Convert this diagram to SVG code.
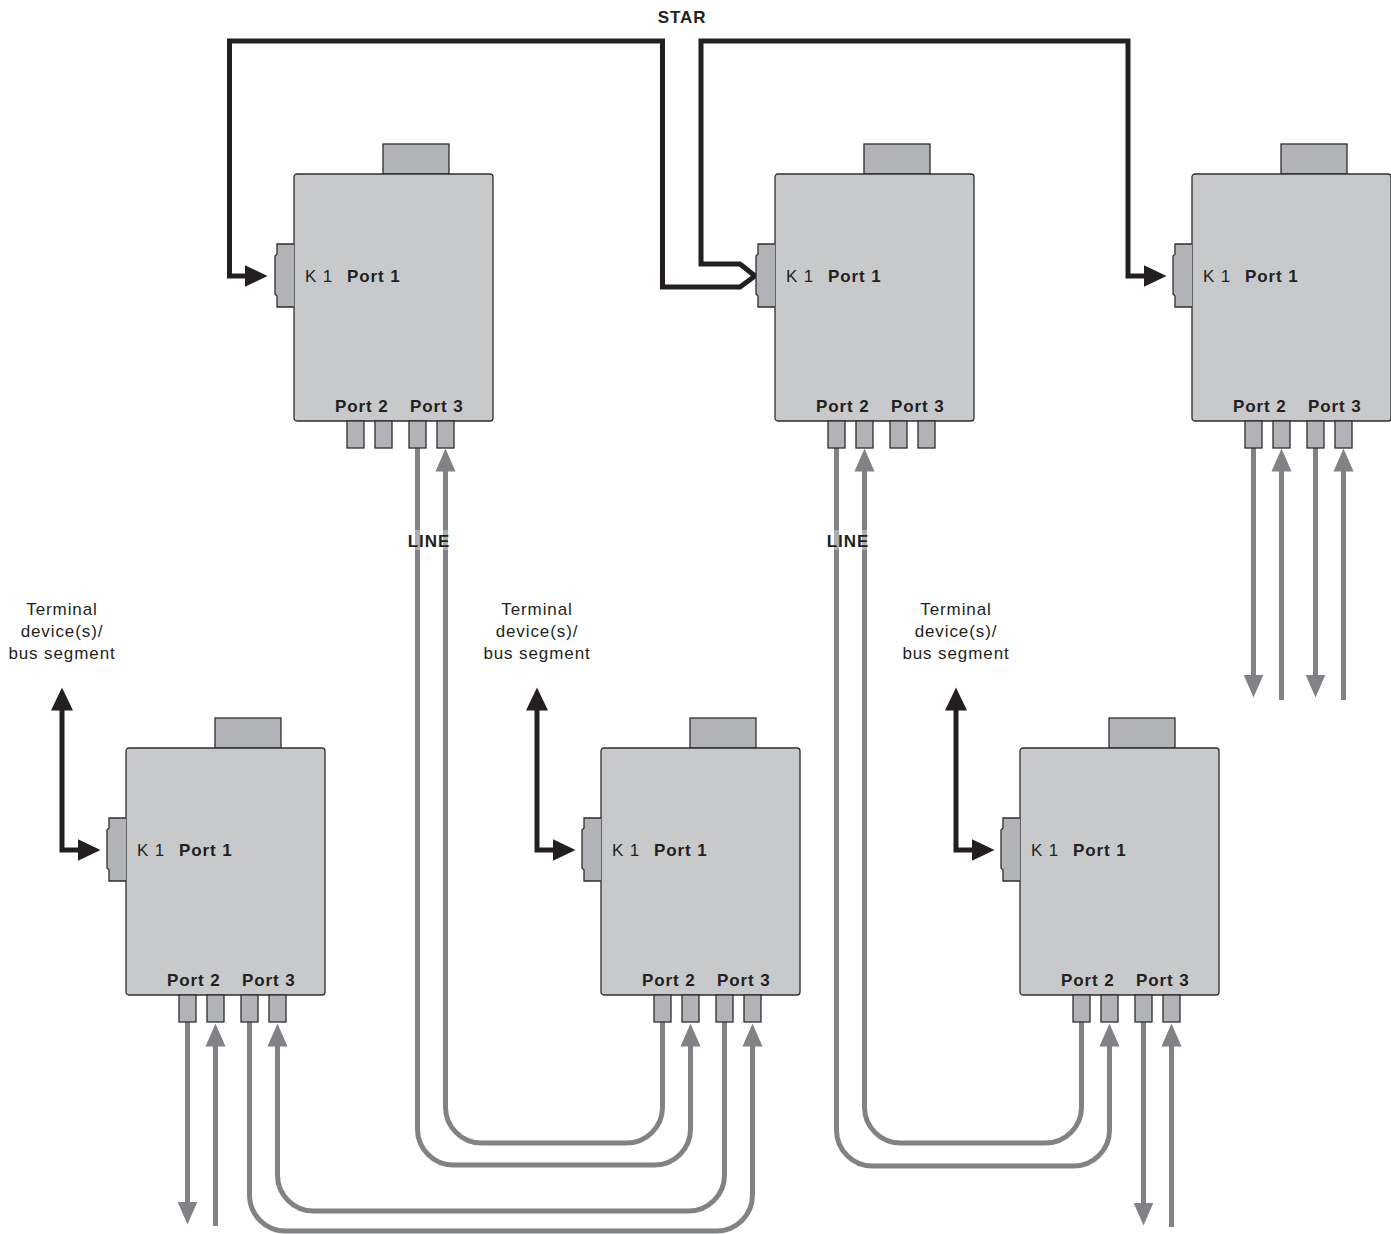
<svg xmlns="http://www.w3.org/2000/svg" width="1391" height="1234" viewBox="0 0 1391 1234">
<style>
.box{fill:#c8c9cb;stroke:#2e2e2e;stroke-width:1.3}
.part{fill:#b2b3b6;stroke:#2e2e2e;stroke-width:1.3}
.t{font-family:"Liberation Sans",Arial,sans-serif;font-size:17px;fill:#231f20;letter-spacing:0.9px}
.b{font-weight:bold}
.g{fill:none;stroke:#808285;stroke-width:5}
.k{fill:none;stroke:#231f20;stroke-width:5;stroke-linejoin:miter}
.ga{marker-end:url(#ag)}
.ka{marker-end:url(#ak)}
</style>
<defs>
<marker id="ag" markerUnits="userSpaceOnUse" markerWidth="24" markerHeight="22" viewBox="0 -11 24 22" refX="0.5" refY="0" orient="auto-start-reverse"><path d="M0,-10 L23,0 L0,10z" fill="#808285"/></marker>
<marker id="ak" markerUnits="userSpaceOnUse" markerWidth="24" markerHeight="24" viewBox="0 -12 24 24" refX="0.5" refY="0" orient="auto-start-reverse"><path d="M0,-11 L23,0 L0,11z" fill="#231f20"/></marker>
<g id="dev">
<rect class="part" x="89" y="-30" width="66" height="30"/>
<rect class="box" x="0" y="0" width="199" height="247" rx="3"/>
<path class="part" d="M0,70 H-17 V80 L-19,82 V120 L-17,122 V133 H0"/>
<rect class="part" x="53" y="247" width="17" height="27"/>
<rect class="part" x="81" y="247" width="17" height="27"/>
<rect class="part" x="115" y="247" width="17" height="27"/>
<rect class="part" x="143" y="247" width="17" height="27"/>
</g>
</defs>

<g id="connectors">
<!-- star -->
<path class="k ka" d="M740,264 L755,276 L740,287 H662.5 V41 H229.5 V276 H245"/>
<path class="k ka" d="M741,264 H701 V41 H1128 V276 H1144"/>
<!-- terminal device arrows -->
<path class="k" style="marker-start:url(#ak);marker-end:url(#ak)" d="M62,710 V850 H78"/>
<path class="k" style="marker-start:url(#ak);marker-end:url(#ak)" d="M537,710 V850 H553"/>
<path class="k" style="marker-start:url(#ak);marker-end:url(#ak)" d="M956,710 V850 H972"/>
<!-- line A-E -->
<path class="g ga" d="M417.5,448 V1129 A36,36 0 0 0 453.5,1165 H654.5 A36,36 0 0 0 690.5,1129 V1046"/>
<path class="g ga" d="M662.5,1022 V1107 A36,36 0 0 1 626.5,1143 H481.5 A36,36 0 0 1 445.5,1107 V471"/>
<!-- line D-E -->
<path class="g ga" d="M249.5,1022 V1195 A36,36 0 0 0 285.5,1231 H716.5 A36,36 0 0 0 752.5,1195 V1046"/>
<path class="g ga" d="M724.5,1022 V1175 A36,36 0 0 1 688.5,1211 H313.5 A36,36 0 0 1 277.5,1175 V1046"/>
<!-- line B-F -->
<path class="g ga" d="M836.5,448 V1130 A36,36 0 0 0 872.5,1166 H1073.5 A36,36 0 0 0 1109.5,1130 V1046"/>
<path class="g ga" d="M1081.5,1022 V1107 A36,36 0 0 1 1045.5,1143 H900.5 A36,36 0 0 1 864.5,1107 V471"/>
<!-- open ends -->
<path class="g ga" d="M187.5,1022 V1202"/>
<path class="g ga" d="M215.5,1226 V1046"/>
<path class="g ga" d="M1143.5,1022 V1203"/>
<path class="g ga" d="M1171.5,1227 V1046"/>
<path class="g ga" d="M1253.5,448 V675"/>
<path class="g ga" d="M1281.5,700 V471"/>
<path class="g ga" d="M1315.5,448 V675"/>
<path class="g ga" d="M1343.5,700 V471"/>
</g>

<g id="node-a" transform="translate(294,174)">
<use href="#dev"/>
<text class="t" x="11" y="108">K 1</text><text class="t b" x="53" y="108">Port 1</text>
<text class="t b" x="41" y="238">Port 2</text><text class="t b" x="116" y="238">Port 3</text>
</g>
<g id="node-b" transform="translate(775,174)">
<use href="#dev"/>
<text class="t" x="11" y="108">K 1</text><text class="t b" x="53" y="108">Port 1</text>
<text class="t b" x="41" y="238">Port 2</text><text class="t b" x="116" y="238">Port 3</text>
</g>
<g id="node-c" transform="translate(1192,174)">
<use href="#dev"/>
<text class="t" x="11" y="108">K 1</text><text class="t b" x="53" y="108">Port 1</text>
<text class="t b" x="41" y="238">Port 2</text><text class="t b" x="116" y="238">Port 3</text>
</g>
<g id="node-d" transform="translate(126,748)">
<use href="#dev"/>
<text class="t" x="11" y="108">K 1</text><text class="t b" x="53" y="108">Port 1</text>
<text class="t b" x="41" y="238">Port 2</text><text class="t b" x="116" y="238">Port 3</text>
</g>
<g id="node-e" transform="translate(601,748)">
<use href="#dev"/>
<text class="t" x="11" y="108">K 1</text><text class="t b" x="53" y="108">Port 1</text>
<text class="t b" x="41" y="238">Port 2</text><text class="t b" x="116" y="238">Port 3</text>
</g>
<g id="node-f" transform="translate(1020,748)">
<use href="#dev"/>
<text class="t" x="11" y="108">K 1</text><text class="t b" x="53" y="108">Port 1</text>
<text class="t b" x="41" y="238">Port 2</text><text class="t b" x="116" y="238">Port 3</text>
</g>

<g id="labels">
<text class="t b" x="682" y="23" text-anchor="middle">STAR</text>
<rect x="405" y="530" width="48" height="20" fill="#fff" opacity="0.35"/>
<text class="t b" x="429" y="547" text-anchor="middle">LINE</text>
<rect x="824" y="530" width="48" height="20" fill="#fff" opacity="0.35"/>
<text class="t b" x="848" y="547" text-anchor="middle">LINE</text>
<text class="t" text-anchor="middle"><tspan x="62" y="615">Terminal</tspan><tspan x="62" y="637">device(s)/</tspan><tspan x="62" y="659">bus segment</tspan></text>
<text class="t" text-anchor="middle"><tspan x="537" y="615">Terminal</tspan><tspan x="537" y="637">device(s)/</tspan><tspan x="537" y="659">bus segment</tspan></text>
<text class="t" text-anchor="middle"><tspan x="956" y="615">Terminal</tspan><tspan x="956" y="637">device(s)/</tspan><tspan x="956" y="659">bus segment</tspan></text>
</g>
</svg>
